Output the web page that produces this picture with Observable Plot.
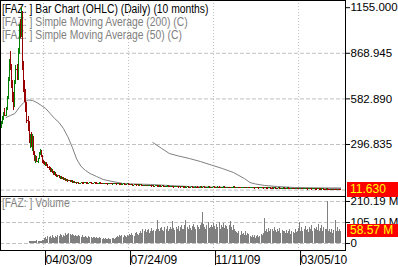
<!DOCTYPE html>
<html><head><meta charset="utf-8">
<script src="https://cdn.jsdelivr.net/npm/d3@7"></script>
<script src="https://cdn.jsdelivr.net/npm/@observablehq/plot@0.6"></script>
<style>
html,body{margin:0;padding:0;background:#fff;}
#chart{position:relative;width:398px;height:267px;overflow:hidden;background:#fff;font-family:"Liberation Sans",Arial,sans-serif;font-size:12px;}
#chart svg{position:absolute;left:0;}
.lbl{position:absolute;left:2px;white-space:nowrap;line-height:13px;transform:scaleX(0.86);transform-origin:0 0;}
.tag{position:absolute;left:347px;width:51px;height:15px;background:#ff0000;color:#ffff00;padding-left:3px;box-sizing:border-box;line-height:15px;white-space:nowrap;}
</style></head>
<body><div id="chart">
<div class="lbl" style="top:3px;color:#000">[FAZ: ] Bar Chart (OHLC) (Daily) (10 months)</div>
<div class="lbl" style="top:16px;color:#808080">[FAZ: ] Simple Moving Average (200) (C)</div>
<div class="lbl" style="top:29px;color:#808080">[FAZ: ] Simple Moving Average (50) (C)</div>
<div class="lbl" style="top:197px;color:#808080">[FAZ: ] Volume</div>
</div>
<script>
const tickIdx = [38, 115, 192, 269];
const tickLabels = ["04/03/09", "07/24/09", "11/11/09", "03/05/10"];
const priceTicks = [1155, 868.945, 582.89, 296.835];
const priceGrid = [868.945, 582.89, 296.835, 10.78];
const volTicks = [0, 105.10, 210.19];
const lastClose = 11.63;
const lastVol = 58.57;

const open = [415,425,460,490,480,520,590,700,810,780,670,580,540,690,770,720,880,1030,980,1120,790,650,600,520,450,400,320,350,300,340,240,200,215,190,205,240,255,220,185,180,170,178,165,155,142,130,138,120,110,118,105,96,100,88,92,82,86,78,80,72,75,67,70,63,66,60,62,56,58,54,56,
52,54,57,55,53,56,58,55,52,54,
56,53,51,54,57,55,52,50,53,55,
52,49,51,54,52,50,48,51,53,50,
48,50,52,49,47,49,51,48,46,48,
50,47,45,47,49,46,44,
46,44,42,45,43,41,43,40,42,44,41,39,41,
38,40,37,39,41,38,36,38,35,37,39,36,34,36,33,
35,37,34,32,34,36,33,31,33,35,32,30,32,34,31,
30,32,29,31,33,30,28,30,32,29,27,29,31,28,27,29,30,28,26,28,
30,27,29,31,28,26,28,30,27,25,27,29,31,28,26,28,30,27,25,27,
29,30,28,26,27,29,27,25,26,28,30,27,25,26,28,26,24,25,27,29,
26,24,26,28,25,24,25,27,25,23,25,27,24,23,24,26,24,22,24,26,
23,22,24,25,23,21,23,25,22,21,22,24,22,20,22,23,21,20,21,23,
21,19,21,22,20,19,20,22,19,18,20,21,19,18,19,21,18,17,19,20,
18,17,18,20,17,16,18,19,17,16,17,18,16,15,17,16,15,14,16,15,
14,15,14,13,14,13,12.5];
const high = [440,470,500,520,530,600,720,830,880,800,700,620,700,790,800,900,1050,1080,1155,1130,820,700,640,560,470,440,360,370,360,345,250,230,220,210,245,265,260,225,195,190,185,182,170,160,150,145,142,130,125,122,110,105,102,95,96,90,88,84,82,78,77,72,72,68,68,64,63,60,59,58,57,
55,58,58,56,57,59,59,56,55,57,
57,54,55,58,58,56,53,54,56,56,
53,52,55,55,53,51,52,54,54,51,
51,53,53,50,50,52,52,49,49,51,
51,48,48,50,50,47,47,
47,45,46,46,44,44,44,43,45,45,42,42,42,
41,41,40,42,42,39,39,39,38,40,40,37,37,37,36,
38,38,35,35,37,37,34,34,36,36,33,33,35,35,32,
33,33,32,34,34,31,31,33,33,30,30,32,32,29,30,31,31,29,29,31,
31,30,32,32,29,29,31,31,28,28,30,32,32,29,29,31,31,28,28,30,
31,31,29,28,30,30,28,27,29,31,31,28,27,29,29,27,26,28,30,30,
27,27,29,29,26,26,28,28,26,26,28,28,25,25,27,27,25,25,27,27,
24,25,26,26,24,24,26,26,23,23,25,25,23,23,24,24,22,22,24,24,
22,22,23,23,21,21,23,23,20,21,22,22,20,20,22,22,19,20,21,21,
19,19,21,21,18,19,20,20,18,18,19,19,17,18,18,17,16,17,17,16,
16,16,15,15,15,14,13.5];
const low = [395,420,445,470,470,510,580,690,760,650,560,510,530,670,700,700,860,960,970,760,620,560,500,430,380,300,270,280,250,230,190,180,185,180,200,225,215,180,170,165,160,160,150,138,125,120,115,105,100,100,92,88,85,80,78,76,74,72,70,66,64,62,60,58,56,55,53,52,51,50,49,
51,53,54,52,52,55,54,51,51,53,
52,50,50,53,54,51,49,49,52,51,
48,48,50,51,49,47,47,50,49,47,
47,49,48,46,46,48,47,45,45,47,
46,44,44,46,45,43,43,
43,41,41,42,40,40,39,39,41,40,38,38,37,
37,36,36,38,37,35,35,34,34,36,35,33,33,32,32,
34,33,31,31,33,32,30,30,32,31,29,29,31,30,29,
29,28,28,30,29,27,27,29,28,26,26,28,27,26,26,28,27,25,25,27,
26,26,28,27,25,25,27,26,24,24,26,28,27,25,25,27,26,24,24,26,
28,27,25,25,26,26,24,24,25,27,26,24,24,25,25,23,23,24,26,25,
23,23,25,24,23,23,24,24,22,22,24,23,22,22,23,23,21,21,23,22,
21,21,23,22,20,20,22,21,20,20,21,21,19,19,21,20,19,19,20,20,
18,18,20,19,18,18,19,18,17,17,19,18,17,17,18,17,16,16,18,17,
16,16,17,16,15,15,17,16,15,15,16,15,14,14,15,14,13,13,14,13,
13,13,12,12,12,11.5,11];
const close = [425,460,490,480,520,590,700,810,780,670,580,540,690,770,720,880,1030,980,1120,790,650,600,520,450,400,320,350,300,340,240,200,215,190,205,240,255,220,185,180,170,178,165,155,142,130,138,120,110,118,105,96,100,88,92,82,86,78,80,72,75,67,70,63,66,60,62,56,58,54,56,52,
54,57,55,53,56,58,55,52,54,56,
53,51,54,57,55,52,50,53,55,52,
49,51,54,52,50,48,51,53,50,48,
50,52,49,47,49,51,48,46,48,50,
47,45,47,49,46,44,46,
44,42,45,43,41,43,40,42,44,41,39,41,38,
40,37,39,41,38,36,38,35,37,39,36,34,36,33,35,
37,34,32,34,36,33,31,33,35,32,30,32,34,31,30,
32,29,31,33,30,28,30,32,29,27,29,31,28,27,29,30,28,26,28,30,
27,29,31,28,26,28,30,27,25,27,29,31,28,26,28,30,27,25,27,29,
30,28,26,27,29,27,25,26,28,30,27,25,26,28,26,24,25,27,29,26,
24,26,28,25,24,25,27,25,23,25,27,24,23,24,26,24,22,24,26,23,
22,24,25,23,21,23,25,22,21,22,24,22,20,22,23,21,20,21,23,21,
19,21,22,20,19,20,22,19,18,20,21,19,18,19,21,18,17,19,20,18,
17,18,20,17,16,18,19,17,16,17,18,16,15,17,16,15,14,16,15,14,
15,14,13,14,13,12.5,11.63];
const volume = [1,2,1,1,2,1,2,1,1,2,1,2,2,1,2,1,2,1,2,2,1,2,1,2,2,
8,10,9,12,10,11,9,13,12,10,11,12,14,13,
25,30,22,35,28,33,26,38,30,27,35,32,
40,34,45,38,30,42,36,48,40,44,
52,45,38,46,40,35,42,37,33,39,
36,30,38,32,28,35,31,27,33,29,
30,26,32,28,24,30,27,23,29,25,
22,26,20,24,18,22,27,21,19,25,23,20,26,
30,36,28,40,33,38,31,42,35,29,39,34,
45,38,50,42,36,48,55,44,40,52,
60,52,68,58,72,55,64,70,50,62,75,58,66,60,72,
115,68,60,75,82,65,58,78,70,85,62,72,80,68,110,75,66,80,
70,85,62,78,90,72,68,88,115,80,70,92,75,65,85,95,78,70,88,82,72,90,
100,155,95,80,70,88,105,75,82,92,
78,100,85,70,95,82,105,72,88,80,98,76,90,
85,70,92,110,78,65,88,72,60,
55,48,62,40,58,45,52,38,60,42,50,44,
35,30,42,28,38,25,33,40,30,36,45,38,48,
125,62,70,55,75,60,68,
72,58,80,65,55,70,62,75,50,66,58,60,
52,64,48,58,70,45,62,55,50,68,56,60,
75,105,62,80,58,70,85,65,72,55,78,68,90,60,74,
70,82,65,95,58,76,88,62,80,70,72,
210,
60,72,55,68,48,65,115,58,80,62,70,58.57];

const sma50Idx = [4,8,12,16,20,24,28,32,36,40,44,48,52,56,60,64,68,72,76,80,86,92,100,110,120,135,150,170,190,210,230,250,270,290,307];
const sma50Val = [466,479,491,529,560,576,573,560,541,522,491,460,435,397,345,280,205,159,134,115,96,77,65,52,49,46,40,33,30,27,27,24,24,21,21];
const sma200Idx = [137,145,152,160,170,180,190,200,210,215,220,225,230,238,250,265,280,295,307];
const sma200Val = [309,272,240,225,209,190,168,146,121,102,83,58,49,40,33,27,25,24,24];

const UP = "#008000", DOWN = "#990000", GRAY = "#808080", GRID = "#c0c0c0";
const FONT = '"Liberation Sans",Arial,sans-serif';

const bars = close.map((c, i) => ({i, o: open[i], h: high[i], l: low[i], c, col: c >= open[i] ? UP : DOWN}));
const vols = volume.map((v, i) => ({i, v}));
const sma50 = sma50Idx.map((i, k) => ({i, v: sma50Val[k]}));
const sma200 = sma200Idx.map((i, k) => ({i, v: sma200Val[k]}));
const labelOf = new Map(tickIdx.map((t, k) => [t, tickLabels[k]]));
const xDomain = [-1, 311.5];

const chart = document.getElementById("chart");

const price = Plot.plot({
  width: 398, height: 196,
  marginLeft: 0, marginRight: 53, marginTop: 0, marginBottom: 0,
  style: {fontFamily: FONT, fontSize: "11px", color: "#000", background: "transparent", overflow: "visible"},
  x: {domain: xDomain, axis: null},
  y: {domain: [-29.5, 1200.1], axis: null},
  color: {type: "identity"},
  marks: [
    Plot.ruleY(priceGrid, {stroke: GRID, strokeDasharray: "4,2"}),
    Plot.ruleX(tickIdx, {stroke: GRID, strokeDasharray: "1,2"}),
    Plot.line(sma200, {x: "i", y: "v", stroke: GRAY, strokeWidth: 1}),
    Plot.line(sma50, {x: "i", y: "v", stroke: GRAY, strokeWidth: 1}),
    Plot.ruleX(bars, {x: "i", y1: "l", y2: "h", stroke: "col", strokeWidth: 1, shapeRendering: "crispEdges"}),
    Plot.ruleY(bars, {y: "o", x1: d => d.i - 0.9, x2: "i", stroke: "col", shapeRendering: "crispEdges"}),
    Plot.ruleY(bars, {y: "c", x1: "i", x2: d => d.i + 0.9, stroke: "col", shapeRendering: "crispEdges"}),
    Plot.axisY(priceTicks, {anchor: "right", label: null, tickSize: 4, tickPadding: 1, fontSize: 11.5, tickFormat: d3.format(".3f"), stroke: "#000", fill: "#000"}),
    Plot.frame({stroke: "#000"})
  ]
});
price.style.top = "0px";
chart.appendChild(price);

const vol = Plot.plot({
  width: 398, height: 71,
  marginLeft: 0, marginRight: 53, marginTop: 0, marginBottom: 17,
  style: {fontFamily: FONT, fontSize: "11px", color: "#000", background: "transparent", overflow: "visible"},
  x: {domain: xDomain, axis: null},
  y: {domain: [-35, 235], axis: null},
  marks: [
    Plot.ruleY(volTicks, {stroke: GRID, strokeDasharray: "4,2"}),
    Plot.ruleX(tickIdx, {stroke: GRID, strokeDasharray: "1,2"}),
    Plot.ruleX(vols, {x: "i", y1: 0, y2: "v", stroke: GRAY, strokeWidth: 1, shapeRendering: "crispEdges"}),
    Plot.axisY(volTicks, {anchor: "right", label: null, tickSize: 4, tickPadding: 1, fontSize: 11.5, tickFormat: d => d === 0 ? "0" : d.toFixed(2) + " M", stroke: "#000", fill: "#000"}),
    Plot.axisX(tickIdx, {anchor: "bottom", label: null, tickSize: 15, tickPadding: -10.5, fontSize: 12, textAnchor: "start", dx: 2, tickFormat: d => labelOf.get(d), stroke: "#000", fill: "#000"}),
    Plot.frame({stroke: "#000"})
  ]
});
vol.style.top = "196px";
chart.appendChild(vol);

// last-value tags positioned through the plots' own scales
const py = price.scale("y").apply(lastClose);
const t1 = document.createElement("div");
t1.className = "tag"; t1.textContent = lastClose.toFixed(3);
t1.style.top = (py - 7.5) + "px";
chart.appendChild(t1);
const vy = vol.scale("y").apply(lastVol) + 196;
const t2 = document.createElement("div");
t2.className = "tag"; t2.textContent = lastVol.toFixed(2) + " M";
t2.style.top = (vy - 7) + "px"; t2.style.height = "13px"; t2.style.lineHeight = "13px";
chart.appendChild(t2);
</script></body></html>
